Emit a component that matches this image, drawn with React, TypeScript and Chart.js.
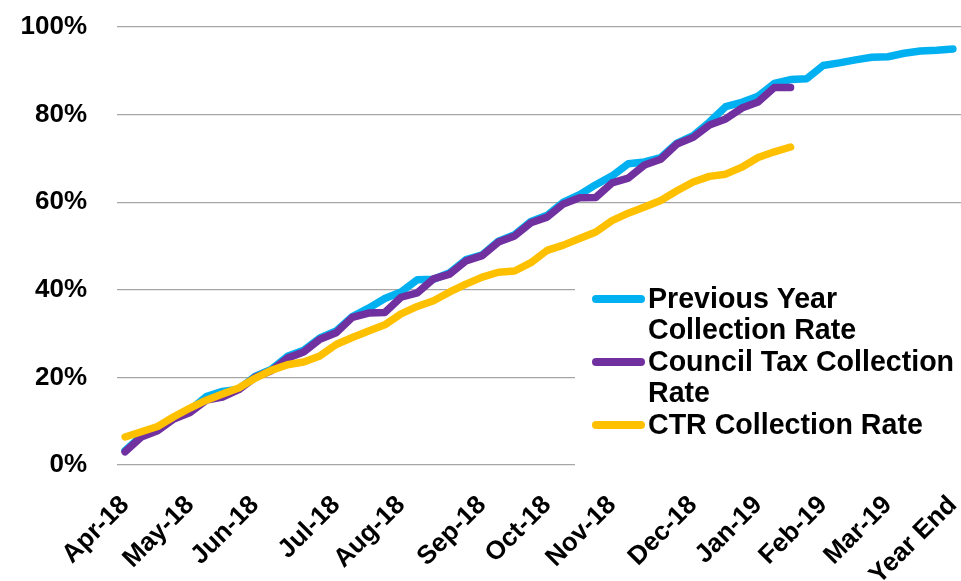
import React, { useEffect, useRef } from "react";
import { Chart, registerables } from "chart.js";

Chart.register(...registerables);

const categories: string[] = [
  "Apr-18", "", "", "",
  "May-18", "", "", "",
  "Jun-18", "", "", "", "",
  "Jul-18", "", "", "",
  "Aug-18", "", "", "", "",
  "Sep-18", "", "", "",
  "Oct-18", "", "", "",
  "Nov-18", "", "", "", "",
  "Dec-18", "", "", "",
  "Jan-19", "", "", "",
  "Feb-19", "", "", "",
  "Mar-19", "", "", "",
  "Year End",
];

const previousYear: number[] = [
  3.3, 6.6, 8.0, 10.8, 12.6, 15.6, 16.8, 17.3, 20.2, 21.8,
  24.8, 26.2, 29.0, 30.6, 33.9, 35.8, 38.0, 39.5, 42.3, 42.4,
  43.9, 46.9, 48.0, 51.1, 52.6, 55.6, 57.0, 60.0, 61.7, 64.0,
  66.0, 68.8, 69.2, 70.2, 73.5, 75.2, 78.3, 81.8, 82.8, 84.2,
  87.1, 88.0, 88.2, 91.2, 91.8, 92.5, 93.1, 93.2, 94.0, 94.5,
  94.7, 95.0,
];

const councilTax: number[] = [
  3.0, 6.4, 7.8, 10.5, 12.0, 14.8, 15.5, 17.2, 20.0, 21.5,
  24.4, 25.8, 28.7, 30.2, 33.7, 34.7, 34.8, 38.3, 39.3, 42.5,
  43.6, 46.6, 47.8, 50.9, 52.3, 55.3, 56.6, 59.6, 61.0, 61.1,
  64.4, 65.5, 68.5, 69.8, 73.3, 74.8, 77.6, 79.0, 81.5, 82.9,
  86.2, 86.2,
];

const ctrRate: number[] = [
  6.4, 7.6, 8.8, 11.0, 13.0, 14.8, 16.2, 17.6, 19.8, 21.6,
  22.9, 23.5, 24.9, 27.5, 29.1, 30.6, 32.0, 34.5, 36.2, 37.5,
  39.5, 41.3, 42.9, 44.0, 44.3, 46.2, 49.0, 50.2, 51.7, 53.2,
  55.8, 57.5, 58.9, 60.4, 62.6, 64.6, 65.9, 66.4, 68.0, 70.2,
  71.5, 72.6,
];

const seriesNames: string[][] = [
  ["Previous Year", "Collection Rate"],
  ["Council Tax Collection", "Rate"],
  ["CTR Collection Rate"],
];
const seriesColors = ["#00B0F0", "#7030A0", "#FFC000"];

const FONT = "'Liberation Sans', Arial, sans-serif";

const legendPlugin = {
  id: "boxLegend",
  beforeDatasetsDraw(chart: any) {
    const ctx = chart.ctx as CanvasRenderingContext2D;
    ctx.save();
    ctx.fillStyle = "#ffffff";
    ctx.fillRect(575, 268, 400, 210);
    const lineH = 31.5;
    let y = 300;
    seriesNames.forEach((lines, i) => {
      ctx.strokeStyle = seriesColors[i];
      ctx.lineWidth = 8;
      ctx.lineCap = "round";
      ctx.beginPath();
      ctx.moveTo(596, y - 1);
      ctx.lineTo(641, y - 1);
      ctx.stroke();
      ctx.fillStyle = "#000000";
      ctx.font = `bold 28.6px ${FONT}`;
      ctx.textBaseline = "middle";
      ctx.textAlign = "left";
      lines.forEach((t, j) => {
        ctx.fillText(t, 648, y + j * lineH);
      });
      y += lines.length * lineH;
    });
    ctx.restore();
  },
};

export default function App() {
  const ref = useRef<HTMLCanvasElement | null>(null);
  useEffect(() => {
    if (!ref.current) return;
    const lineStyle = {
      pointRadius: 0,
      pointHoverRadius: 0,
      borderWidth: 7.5,
      borderCapStyle: "round" as const,
      borderJoinStyle: "round" as const,
      tension: 0,
      fill: false,
    };
    const chart = new Chart(ref.current, {
      type: "line",
      data: {
        labels: categories,
        datasets: [
          { label: "Previous Year Collection Rate", data: previousYear, borderColor: seriesColors[0], backgroundColor: seriesColors[0], order: 2, ...lineStyle },
          { label: "Council Tax Collection Rate", data: councilTax, borderColor: seriesColors[1], backgroundColor: seriesColors[1], order: 1, ...lineStyle },
          { label: "CTR Collection Rate", data: ctrRate, borderColor: seriesColors[2], backgroundColor: seriesColors[2], order: 0, ...lineStyle },
        ],
      },
      options: {
        responsive: false,
        animation: false,
        devicePixelRatio: 1,
        layout: { padding: { top: 27, left: 0, right: 0, bottom: 0 } },
        plugins: {
          legend: { display: false },
          tooltip: { enabled: false },
        },
        scales: {
          x: {
            type: "category",
            offset: true,
            grid: { display: false, drawTicks: false },
            border: { display: false },
            ticks: {
              autoSkip: false,
              maxRotation: 45,
              minRotation: 45,
              padding: 25,
              color: "#000000",
              font: { family: FONT, size: 26, weight: "bold" },
            },
            afterFit(scale: any) {
              scale.height = 116;
              scale.paddingLeft = 0;
              scale.paddingRight = 0;
            },
          },
          y: {
            min: 0,
            max: 100,
            grid: { color: "#a6a6a6", lineWidth: 1.2, drawTicks: false },
            border: { display: false },
            ticks: {
              stepSize: 20,
              padding: 30,
              color: "#000000",
              font: { family: FONT, size: 26, weight: "bold" },
              callback: (v: any) => `${v}%`,
            },
            afterFit(scale: any) {
              scale.width = 117;
              scale.paddingTop = 0;
              scale.paddingBottom = 0;
            },
          },
        },
      },
      plugins: [legendPlugin],
    });
    return () => chart.destroy();
  }, []);
  return (
    <div style={{ position: "absolute", left: 0, top: 0, width: 961, height: 581, background: "#fff" }}>
      <canvas ref={ref} width={961} height={581} />
    </div>
  );
}
